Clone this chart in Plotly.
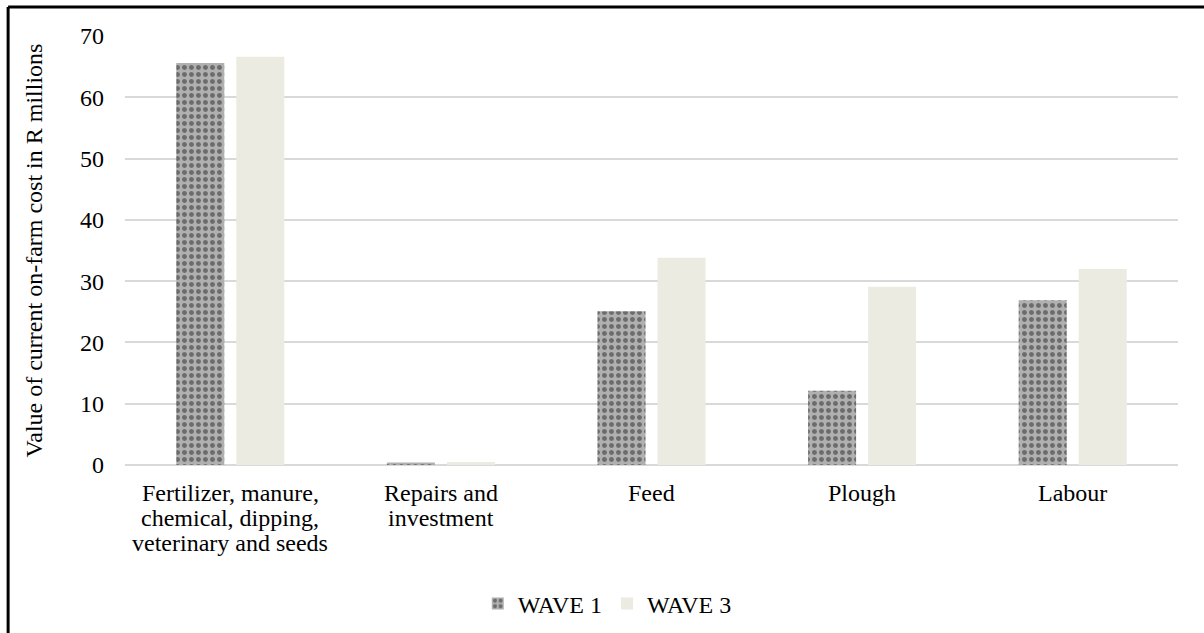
import plotly.graph_objects as go

# Current on-farm cost categories and values (R millions)
categories = ["Fertilizer", "Repairs", "Feed", "Plough", "Labour"]
category_labels = [
    ["Fertilizer, manure,", "chemical, dipping,", "veterinary and seeds"],
    ["Repairs and", "investment"],
    ["Feed"],
    ["Plough"],
    ["Labour"],
]
wave1 = [65.6, 0.4, 25.1, 12.1, 26.9]
wave3 = [66.6, 0.5, 33.8, 29.1, 32.0]
y_ticks = [0, 10, 20, 30, 40, 50, 60, 70]

FONT = "Liberation Serif, Times New Roman, serif"
FS = 24

fig = go.Figure()
fig.add_trace(go.Bar(
    name="WAVE 1", x=categories, y=wave1,
    marker=dict(
        color="#a8a8a8",
        line=dict(width=0),
        pattern=dict(shape=".", bgcolor="#b0b0b0", fgcolor="#6c6c6c",
                     size=7, solidity=0.4, fillmode="replace"),
    ),
))
fig.add_trace(go.Bar(
    name="WAVE 3", x=categories, y=wave3,
    marker=dict(color="#ecebe1", line=dict(width=0)),
))

# Category labels, one annotation per text line
for cat, lines in zip(categories, category_labels):
    for i, line in enumerate(lines):
        fig.add_annotation(x=cat, xref="x", y=0, yref="paper",
                           yanchor="top", yshift=-13 - 25 * i,
                           text=line, showarrow=False,
                           font=dict(family=FONT, size=FS, color="black"))

# Outer frame (top and left edges visible)
fig.add_shape(type="line", xref="paper", yref="paper",
              x0=-0.111, x1=1.2, y0=1.0676, y1=1.0676,
              line=dict(color="black", width=3))
fig.add_shape(type="line", xref="paper", yref="paper",
              x0=-0.111, x1=-0.111, y0=1.0676, y1=-0.5,
              line=dict(color="black", width=3))

fig.update_layout(
    width=1204, height=633,
    margin=dict(l=125, r=26, t=36, b=168, autoexpand=False),
    paper_bgcolor="white", plot_bgcolor="white",
    font=dict(family=FONT, size=FS, color="black"),
    barmode="group", bargap=0.43, bargroupgap=0.2,
    showlegend=True,
    legend=dict(orientation="h", x=0.458, xanchor="center",
                yref="container", y=0.046, yanchor="middle",
                font=dict(family=FONT, size=FS, color="black"),
                itemwidth=30, traceorder="normal"),
    xaxis=dict(showline=False, showgrid=False, ticks="",
               showticklabels=False),
    yaxis=dict(range=[0, 70], tickvals=y_ticks, showgrid=True,
               gridcolor="#d9d9d9", gridwidth=1.5,
               zeroline=True, zerolinecolor="#d9d9d9", zerolinewidth=1.5,
               showline=False, ticks="", ticklabelstandoff=20,
               tickfont=dict(family=FONT, size=FS),
               title=dict(text="Value of current on-farm cost in R millions",
                          font=dict(family=FONT, size=24), standoff=30)),
)

fig.write_html("out.html")
